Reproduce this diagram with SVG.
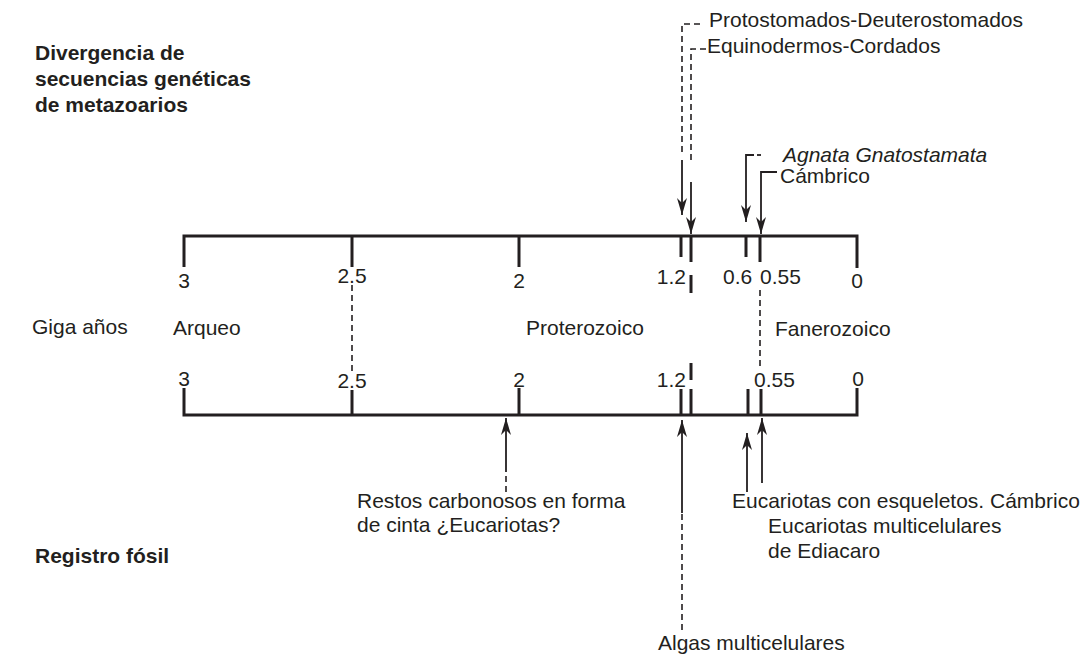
<svg xmlns="http://www.w3.org/2000/svg" width="1087" height="654" viewBox="0 0 1087 654">
<style>
text{font-family:"Liberation Sans",Arial,Helvetica,sans-serif;font-size:21px;fill:#231f20}
.b{font-weight:bold}
.i{font-style:italic}
.axis{fill:none;stroke:#231f20;stroke-width:3}
.tick{stroke:#231f20;stroke-width:3}
.dash{fill:none;stroke:#231f20;stroke-width:1.6;stroke-dasharray:6,4}
.ln{fill:none;stroke:#231f20;stroke-width:1.8}
.ar{fill:none;stroke:#231f20;stroke-width:1.8;marker-end:url(#ah)}
</style>
<defs>
<marker id="ah" viewBox="-17 -6 18 12" refX="0" refY="0" markerWidth="18" markerHeight="12" markerUnits="userSpaceOnUse" orient="auto">
<path d="M0,0 L-17,-5 L-12,0 L-17,5 Z" fill="#231f20"/>
</marker>
</defs>
<rect width="1087" height="654" fill="#fff"/>

<g id="titles">
<text class="b" x="35" y="60">Divergencia de</text>
<text class="b" x="35" y="86">secuencias genéticas</text>
<text class="b" x="35" y="112">de metazoarios</text>
<text class="b" x="35" y="563">Registro fósil</text>
</g>

<g id="top-axis">
<path class="axis" d="M184,267 V236 H857 V268"/>
<line class="tick" x1="352" y1="236" x2="352" y2="267"/>
<line class="tick" x1="519" y1="236" x2="519" y2="267"/>
<line class="tick" x1="681" y1="236" x2="681" y2="257"/>
<line class="tick" x1="691" y1="236" x2="691" y2="262"/>
<line class="tick" x1="746" y1="236" x2="746" y2="257"/>
<line class="tick" x1="760" y1="236" x2="760" y2="262"/>
<text x="184" y="288" text-anchor="middle">3</text>
<text x="352" y="283" text-anchor="middle">2.5</text>
<text x="519" y="288" text-anchor="middle">2</text>
<text x="686" y="284" text-anchor="end">1.2</text>
<text x="723" y="284">0.6</text>
<text x="760" y="284">0.55</text>
<text x="857" y="288" text-anchor="middle">0</text>
</g>

<g id="eras">
<text x="32" y="334">Giga años</text>
<text x="173" y="335">Arqueo</text>
<text x="526" y="335">Proterozoico</text>
<text x="775" y="336">Fanerozoico</text>
</g>

<g id="bottom-axis">
<path class="axis" d="M184,388 V415 H857 V388"/>
<line class="tick" x1="352" y1="390" x2="352" y2="415"/>
<line class="tick" x1="519" y1="388" x2="519" y2="415"/>
<line class="tick" x1="681" y1="389" x2="681" y2="415"/>
<line class="tick" x1="691" y1="389" x2="691" y2="415"/>
<line class="tick" x1="748" y1="389" x2="748" y2="415"/>
<line class="tick" x1="761" y1="389" x2="761" y2="415"/>
<text x="184" y="386" text-anchor="middle">3</text>
<text x="352" y="388" text-anchor="middle">2.5</text>
<text x="519" y="387" text-anchor="middle">2</text>
<text x="686" y="387" text-anchor="end">1.2</text>
<text x="754" y="387">0.55</text>
<text x="858" y="386" text-anchor="middle">0</text>
</g>

<g id="top-labels">
<text x="709" y="27">Protostomados-Deuterostomados</text>
<text x="707" y="53">Equinodermos-Cordados</text>
<text class="i" x="783" y="162">Agnata Gnatostamata</text>
<text x="780" y="183">Cámbrico</text>
</g>

<g id="bottom-labels">
<text x="357" y="508">Restos carbonosos en forma</text>
<text x="357" y="532">de cinta ¿Eucariotas?</text>
<text x="732" y="508">Eucariotas con esqueletos. Cámbrico</text>
<text x="768" y="533">Eucariotas multicelulares</text>
<text x="768" y="558">de Ediacaro</text>
<text x="658" y="650">Algas multicelulares</text>
</g>

<g id="connectors">
<path class="dash" d="M352,285 V372"/>
<path class="dash" d="M760,290 V368"/>
<line class="tick" x1="691" y1="275" x2="691" y2="293"/>
<line class="tick" x1="691" y1="363" x2="691" y2="380"/>
<path class="dash" d="M700,24 H682 V152"/>
<path class="ar" d="M682,160 V215"/>
<path class="dash" d="M706,49 H691 V164"/>
<path class="ar" d="M691,182 V234"/>
<path class="ln" d="M754,155 H746 V160"/>
<path class="ln" d="M757,155 H761"/>
<path class="ar" d="M746,160 V222"/>
<path class="ar" d="M777,172 H761 V234"/>
<path class="dash" d="M506,492 V472"/>
<path class="ar" d="M506,472 V418"/>
<path class="dash" d="M682,630 V513"/>
<path class="ar" d="M682,513 V420"/>
<path class="ar" d="M747,492 V433"/>
<path class="ar" d="M762,483 V418"/>
</g>
</svg>
